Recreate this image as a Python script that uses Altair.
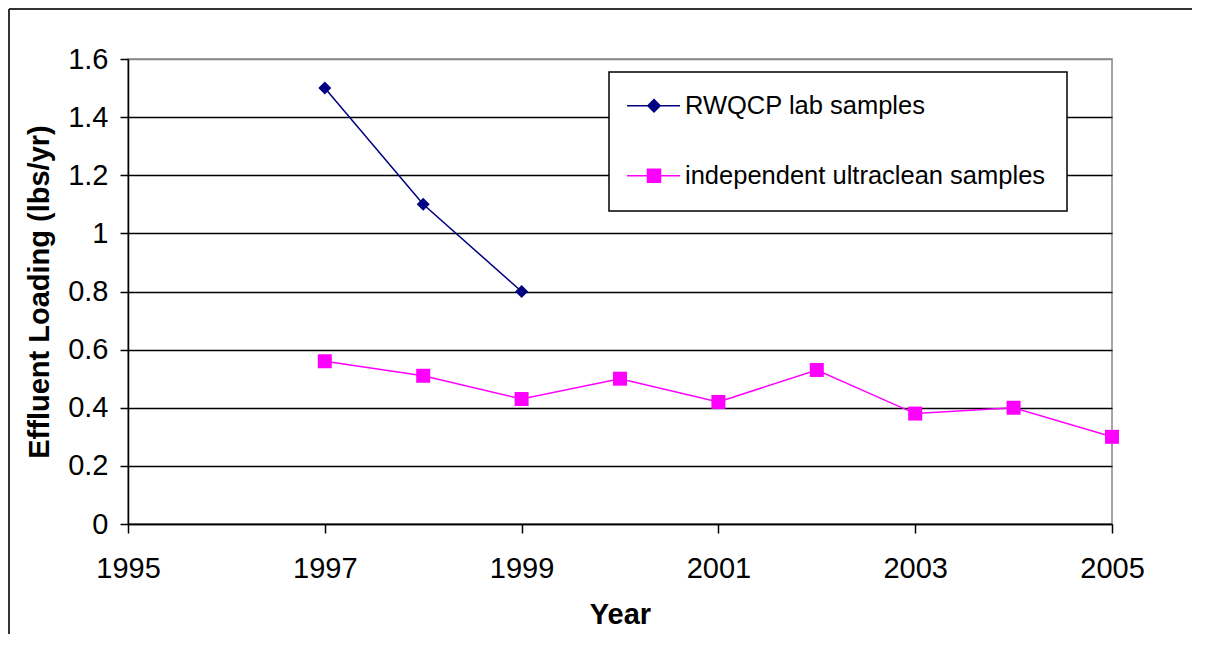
import altair as alt
import pandas as pd

# ---- data ----
series_names = ["RWQCP lab samples", "independent ultraclean samples"]
rwqcp_years = [1997, 1998, 1999]
rwqcp_values = [1.5, 1.1, 0.8]
ultra_years = [1997, 1998, 1999, 2000, 2001, 2002, 2003, 2004, 2005]
ultra_values = [0.56, 0.51, 0.43, 0.50, 0.42, 0.53, 0.38, 0.40, 0.30]
x_ticks = [1995, 1997, 1999, 2001, 2003, 2005]
y_ticks = [0, 0.2, 0.4, 0.6, 0.8, 1, 1.2, 1.4, 1.6]
series_colors = ["#000080", "#FF00FF"]

df = pd.concat([
    pd.DataFrame({"year": rwqcp_years, "value": rwqcp_values, "series": series_names[0]}),
    pd.DataFrame({"year": ultra_years, "value": ultra_values, "series": series_names[1]}),
], ignore_index=True)

W, H = 984, 465
PAD_R = 80
PAD_B = 110
FONT = "Liberation Sans"
TICK_FS = 29
TITLE_FS = 29
LEG_FS = 25.5

# legend symbols: line segment + marker (custom path, unit = sqrt(size)/2)
legend_paths = [
    "M-2.42,0L5.73,0M1.73,-0.95L2.68,0L1.73,0.95L0.78,0Z",
    "M-2.42,0L5.73,0M0.73,-1L2.73,-1L2.73,1L0.73,1Z",
]

x_enc = alt.X(
    "year:Q",
    scale=alt.Scale(domain=[1995, 2005], nice=False, zero=False),
    axis=alt.Axis(
        values=x_ticks, format="d", title="Year", grid=False, labelFlush=False,
        tickSize=9, labelPadding=21, titleX=W / 2, titleY=90,
        titleBaseline="middle", titleAlign="center",
    ),
)
y_enc = alt.Y(
    "value:Q",
    scale=alt.Scale(domain=[0, 1.6], nice=False),
    axis=alt.Axis(
        values=y_ticks, format="~g", title="Effluent Loading (lbs/yr)",
        grid=True, labelFlush=False,
        gridColor={"condition": {"test": "datum.value > 1.5", "value": "#888888"}, "value": "#000000"},
        tickSize=8, labelPadding=12, titleX=-89, titleY=H / 2,
        titleBaseline="middle", titleAlign="center", titleAngle=270,
    ),
)

base = alt.Chart(df)

line1 = base.transform_filter(alt.datum.series == series_names[0]).mark_line(
    color=series_colors[0], strokeWidth=1.5).encode(x=x_enc, y=y_enc)
pts1 = base.transform_filter(alt.datum.series == series_names[0]).mark_point(
    filled=True, shape="diamond", size=169, color=series_colors[0], opacity=1).encode(x=x_enc, y=y_enc)
line2 = base.transform_filter(alt.datum.series == series_names[1]).mark_line(
    color=series_colors[1], strokeWidth=1.5).encode(x=x_enc, y=y_enc)
pts2 = base.transform_filter(alt.datum.series == series_names[1]).mark_point(
    filled=True, shape="square", size=196, color=series_colors[1], opacity=1).encode(x=x_enc, y=y_enc)

leg = alt.Legend(
    title=None, orient="none", legendX=481, legendY=13,
    padding=21, rowPadding=43, labelOffset=29.5, labelLimit=0,
    labelFontSize=LEG_FS, labelFont=FONT, labelColor="#000000",
    strokeColor="#000000", fillColor="#FFFFFF",
    symbolSize=169, symbolStrokeWidth=1.5,
)
legend_layer = base.transform_filter("false").mark_point(
    filled=True, opacity=1, size=169, strokeWidth=1.5).encode(
    x=x_enc, y=y_enc,
    fill=alt.Fill("series:N", scale=alt.Scale(domain=series_names, range=series_colors), legend=leg),
    stroke=alt.Stroke("series:N", scale=alt.Scale(domain=series_names, range=series_colors), legend=leg),
    shape=alt.Shape("series:N", scale=alt.Scale(domain=series_names, range=legend_paths), legend=leg),
)

frame_df = pd.DataFrame({"k": [0]})
frame_top = alt.Chart(frame_df).mark_rule(color="#333333", strokeWidth=2).encode(
    x=alt.value(-119), x2=alt.value(W + PAD_R), y=alt.value(-50))
frame_left = alt.Chart(frame_df).mark_rule(color="#333333", strokeWidth=2).encode(
    x=alt.value(-119), y=alt.value(-50), y2=alt.value(H + PAD_B))

chart = alt.layer(line1, line2, pts1, pts2, legend_layer, frame_top, frame_left).properties(
    width=W, height=H,
    autosize=alt.AutoSizeParams(type="none"),
    padding={"left": 120, "top": 51, "right": PAD_R, "bottom": PAD_B},
    background="white",
).configure_view(
    stroke="#888888", strokeWidth=1.5,
).configure_axis(
    labelFont=FONT, labelFontSize=TICK_FS, labelColor="#000000",
    titleFont=FONT, titleFontSize=TITLE_FS, titleFontWeight="bold", titleColor="#000000",
    domainColor="#000000", domainWidth=1.5, tickColor="#000000", tickWidth=1.5,
    gridWidth=1.5,
).configure_legend(
    strokeWidth=1.5,
)

chart.save("out.html", embed_options={"renderer": "svg", "actions": False})
